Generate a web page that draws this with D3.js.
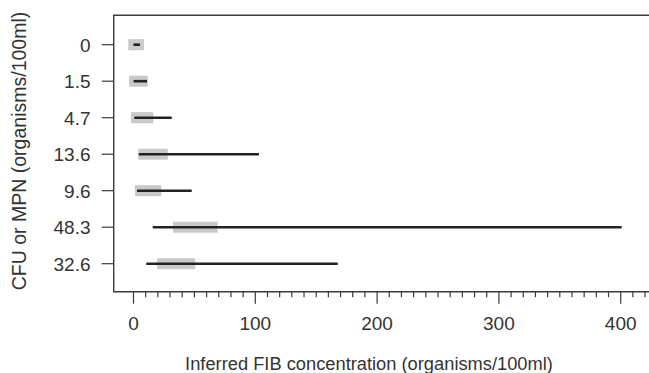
<!DOCTYPE html>
<html>
<head>
<meta charset="utf-8">
<script src="https://cdn.jsdelivr.net/npm/d3@7"></script>
<style>
  body { margin: 0; background: #fff; }
  text { font-family: "Liberation Sans", Arial, sans-serif; fill: #333; }
</style>
</head>
<body>
<svg id="chart"></svg>
<script>
// observed CFU/MPN values (top to bottom)
const categories = ["0", "1.5", "4.7", "13.6", "9.6", "48.3", "32.6"];
// grey box: lower / upper
const boxLow  = [-4.3, -3.7, -2.0, 3.9, 1.2, 32.4, 19.3];
const boxHigh = [8.6, 11.7, 16.3, 28.1, 22.8, 69.1, 50.7];
// black interval: lower / upper
const lineLow  = [0, 0, 0.7, 4.3, 2.9, 15.8, 10.5];
const lineHigh = [5.3, 11.1, 31.4, 103, 47.8, 400.8, 167.7];
const xTicks = [0, 100, 200, 300, 400];

const width = 649, height = 373;
const svg = d3.select("#chart").attr("width", width).attr("height", height);

const xScale = d3.scaleLinear().domain([0, 400]).range([133.5, 620.7]);
const yScale = d3.scaleLinear().domain([0, categories.length - 1]).range([44.7, 263.7]);

const frame = { left: 113.7, top: 15.3, bottom: 291.7 };

// grey boxes
svg.selectAll(".box")
  .data(categories)
  .join("rect")
    .attr("class", "box")
    .attr("x", (d, i) => xScale(boxLow[i]))
    .attr("y", (d, i) => yScale(i) - 5.5)
    .attr("width", (d, i) => xScale(boxHigh[i]) - xScale(boxLow[i]))
    .attr("height", 11)
    .attr("fill", "#c9c9c9");

// black intervals
svg.selectAll(".range")
  .data(categories)
  .join("line")
    .attr("class", "range")
    .attr("x1", (d, i) => xScale(lineLow[i]))
    .attr("x2", (d, i) => xScale(lineHigh[i]))
    .attr("y1", (d, i) => yScale(i))
    .attr("y2", (d, i) => yScale(i))
    .attr("stroke", "#222")
    .attr("stroke-width", 2.6);

// frame (right side falls outside the picture)
svg.append("path")
  .attr("d", `M${width + 5},${frame.top}H${frame.left}V${frame.bottom}H${width + 5}`)
  .attr("fill", "none")
  .attr("stroke", "#3a3a3a")
  .attr("stroke-width", 1.4);

// y ticks + labels
svg.selectAll(".ytick")
  .data(categories)
  .join("line")
    .attr("class", "ytick")
    .attr("x1", frame.left - 12)
    .attr("x2", frame.left)
    .attr("y1", (d, i) => yScale(i))
    .attr("y2", (d, i) => yScale(i))
    .attr("stroke", "#3a3a3a")
    .attr("stroke-width", 1.2);

svg.selectAll(".ylab")
  .data(categories)
  .join("text")
    .attr("class", "ylab")
    .attr("x", 90.5)
    .attr("y", (d, i) => yScale(i))
    .attr("dy", "0.36em")
    .attr("text-anchor", "end")
    .style("font-size", "19px")
    .text(d => d);

// x ticks: minor every 10, major every 100
const minor = d3.range(0, 430, 10);
svg.selectAll(".xtick")
  .data(minor)
  .join("line")
    .attr("class", "xtick")
    .attr("x1", d => xScale(d))
    .attr("x2", d => xScale(d))
    .attr("y1", frame.bottom)
    .attr("y2", d => frame.bottom + (d % 100 === 0 ? 12 : 5.5))
    .attr("stroke", "#3a3a3a")
    .attr("stroke-width", 1.2);

svg.selectAll(".xlab")
  .data(xTicks)
  .join("text")
    .attr("class", "xlab")
    .attr("x", d => xScale(d))
    .attr("y", 330)
    .attr("text-anchor", "middle")
    .style("font-size", "19px")
    .text(d => d);

// axis titles
svg.append("text")
  .attr("x", 369)
  .attr("y", 370)
  .attr("text-anchor", "middle")
  .style("font-size", "18.3px")
  .text("Inferred FIB concentration (organisms/100ml)");

svg.append("text")
  .attr("transform", "rotate(-90)")
  .attr("x", -151)
  .attr("y", 26)
  .attr("text-anchor", "middle")
  .style("font-size", "19.5px")
  .text("CFU or MPN (organisms/100ml)");
</script>
</body>
</html>
